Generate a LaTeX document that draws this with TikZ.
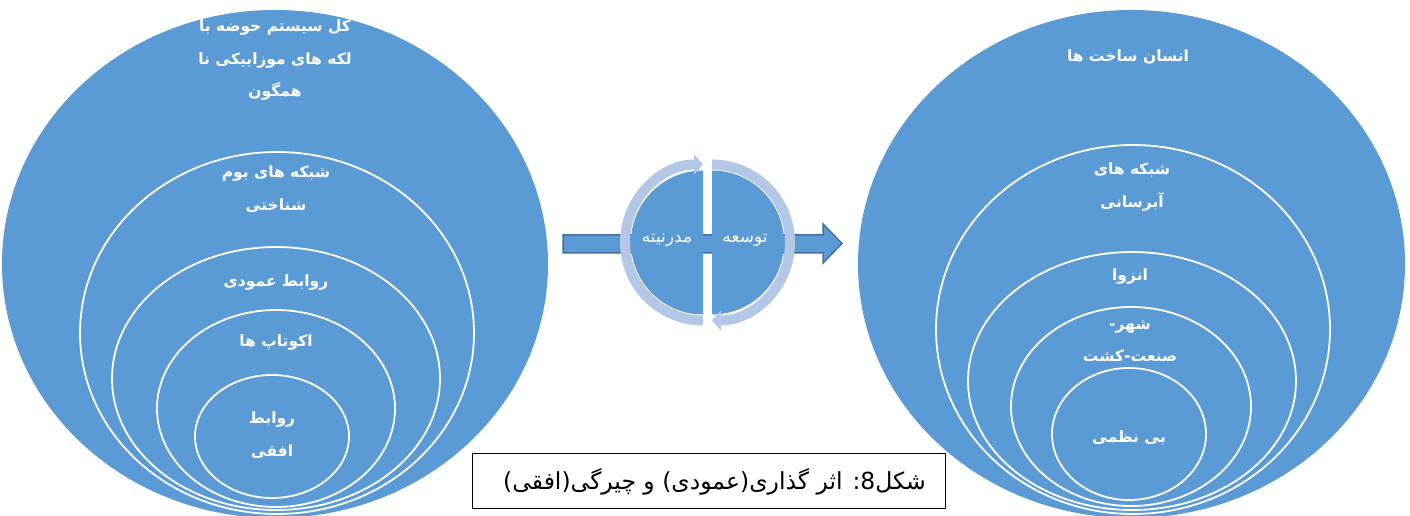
\documentclass[tikz,border=0pt]{standalone}
\usepackage{fontspec}
\usepackage{tikz}
\usetikzlibrary{arrows.meta,shapes.geometric}
\TeXXeTstate=1
\newfontfamily\arabicfont[Script=Arabic]{DejaVu Sans}
\definecolor{vennblue}{HTML}{5B9BD5}
\definecolor{vennedge}{HTML}{41719C}
\definecolor{ringblue}{HTML}{B4C7E7}
\newcommand{\rtl}[1]{\beginR #1\endR}

\begin{document}
\begin{tikzpicture}[x=1pt,y=1pt,
	outer/.style={ellipse, fill=vennblue, draw=none, inner sep=0pt},
	inner/.style={ellipse, draw=white, line width=1.8pt, inner sep=0pt},
	lbl/.style={text=white, align=center, inner sep=0pt, font=\arabicfont\bfseries\fontsize{15.5}{32.5}\selectfont},
	mid/.style={text=white, inner sep=0pt, font=\arabicfont\fontsize{17}{20}\selectfont},
	ringarrow/.style={draw=ringblue, line width=10pt, -{Triangle[length=9pt,width=20pt]}}]
	\fill[white] (0,0) rectangle (1410,516);
	\useasboundingbox (0,0) rectangle (1410,516);
	
	% left stack
	\node[outer, minimum width=546pt, minimum height=508pt] (l1) at (275,252) {};
	\node[inner, minimum width=394pt, minimum height=362pt] (l2) at (277,183) {};
	\node[inner, minimum width=328pt, minimum height=263pt] (l3) at (276,137.5) {};
	\node[inner, minimum width=238pt, minimum height=197pt] (l4) at (276,107.5) {};
	\node[inner, minimum width=154pt, minimum height=123pt] (l5) at (272,79.5) {};
	\node[lbl] (t1) at (275,455.5) {\rtl{کل سیستم حوضه با}\\\rtl{لکه های موزاییکی نا}\\\rtl{همگون}};
	\node[lbl] (t2) at (276,327) {\rtl{شبکه های بوم}\\\rtl{شناختی}};
	\node[lbl] (t3) at (276,233) {\rtl{روابط عمودی}};
	\node[lbl] (t4) at (276,173) {\rtl{اکوتاپ ها}};
	\node[lbl] (t5) at (272,81) {\rtl{روابط}\\\rtl{افقی}};
	
	% right stack
	\node[outer, minimum width=547pt, minimum height=508pt] (r1) at (1131.5,252) {};
	\node[inner, minimum width=394pt, minimum height=369pt] (r2) at (1133,186.5) {};
	\node[inner, minimum width=328pt, minimum height=258pt] (r3) at (1132,135) {};
	\node[inner, minimum width=240pt, minimum height=199pt] (r4) at (1131,109.5) {};
	\node[inner, minimum width=154pt, minimum height=132pt] (r5) at (1129,82) {};
	\node[lbl] (s1) at (1128,459) {\rtl{انسان ساخت ها}};
	\node[lbl] (s2) at (1132,329) {\rtl{شبکه های}\\\rtl{آبرسانی}};
	\node[lbl] (s3) at (1130,239) {\rtl{انزوا}};
	\node[lbl] (s4) at (1130,175) {\rtl{شهر\kern0pt-}\\\rtl{صنعت\kern0pt-\kern0pt کشت}};
	\node[lbl] (s5) at (1129,78) {\rtl{بی نظمی}};
	
	% block arrow behind the cycle
	\draw[fill=vennblue, draw=vennedge, line width=1.5pt, line join=miter]
		(563,263) -- (823,263) -- (823,253) -- (842,272.5) -- (823,292) -- (823,281) -- (563,281) -- cycle;
	
	% two half cycles
	\fill[vennblue] (703,345.5) arc[start angle=90, end angle=270, radius=72] -- cycle;
	\fill[vennblue] (712,345.5) arc[start angle=90, end angle=-90, radius=72] -- cycle;
	\draw[ringarrow] (703,195.5) arc[start angle=270, end angle=90, radius=78];
	\draw[ringarrow] (712,351.5) arc[start angle=90, end angle=-90, radius=78];
	\node[mid] (m1) at (667,276) {\rtl{مدرنیته}};
	\node[mid] (m2) at (745,276) {\rtl{توسعه}};
	
	% caption
	\node[draw=black, fill=white, line width=0.8pt, minimum width=473pt, minimum height=55pt] (cap) at (708.5,35.5) {};
	\node[inner sep=0pt, font=\arabicfont\fontsize{23.5}{28}\selectfont] (captext) at ([xshift=6pt,yshift=-1pt]cap.center)
		{\rtl{شکل\kern0pt 8\kern0pt: اثر گذاری(عمودی) و چیرگی(افقی)}};
\end{tikzpicture}
\end{document}
